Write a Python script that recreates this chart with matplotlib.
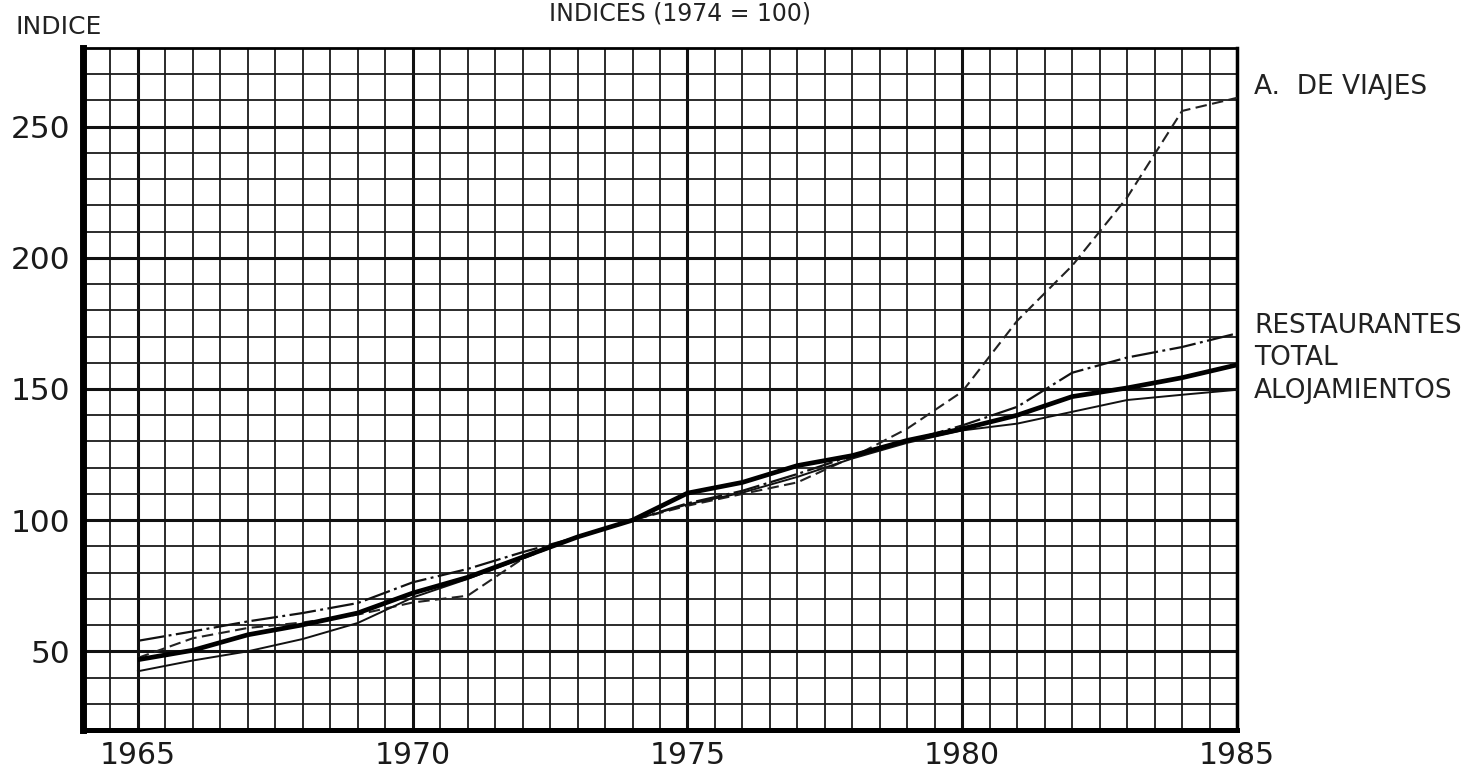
import matplotlib
matplotlib.use('Agg')
import matplotlib.pyplot as plt
from matplotlib.ticker import MultipleLocator

years = list(range(1965, 1986))

viajes = [47.5, 55, 58.9, 61, 64, 68.6, 71.2, 85.3, 93.6, 100, 105.5,
          110, 114.4, 124, 134.9, 149, 176, 197, 223, 256, 261]
restaurantes = [54, 57.6, 61.4, 64.6, 68.4, 76.3, 81.4, 87.8, 93.6, 100, 106.4,
                111.2, 117.6, 124.6, 130, 136.1, 143.2, 156.2, 162, 166, 171.2]
total = [46.8, 50.4, 56.3, 60.1, 64.6, 72.2, 78.2, 85.9, 93.6, 100, 110.3,
         114.4, 120.8, 124.6, 130.4, 134.8, 140, 147.1, 150.4, 154.3, 159.2]
alojamientos = [42.4, 46.5, 50, 54.7, 60.8, 70.5, 77.6, 85.5, 93.6, 100, 106,
                110.5, 116.5, 123.5, 129.5, 134.2, 136.8, 141.3, 145.8, 147.8, 149.7]

series_labels = ['A.  DE VIAJES', 'RESTAURANTES', 'TOTAL', 'ALOJAMIENTOS']
label_y = [265, 174, 161.7, 149.4]

fig = plt.figure(figsize=(14.74, 7.68), dpi=100)
ax = fig.add_axes([83 / 1474, 38 / 768, (1237 - 83) / 1474, (730 - 48) / 768])

ax.set_xlim(1964, 1985)
ax.set_ylim(20, 280)

ax.xaxis.set_minor_locator(MultipleLocator(0.5))
ax.yaxis.set_minor_locator(MultipleLocator(10))
ax.set_xticks([1965, 1970, 1975, 1980, 1985])
ax.set_yticks([50, 100, 150, 200, 250])

ax.grid(which='minor', color='#1a1a1a', lw=1.3)
ax.grid(which='major', color='#111111', lw=2.2)
ax.set_axisbelow(True)

ax.tick_params(which='both', length=0)
ax.tick_params(axis='y', labelsize=22.5, pad=9)
ax.tick_params(axis='x', labelsize=21.5, pad=8)
for lab in ax.get_xticklabels() + ax.get_yticklabels():
    lab.set_color('#1a1a1a')

ax.spines['left'].set_linewidth(5)
ax.spines['bottom'].set_linewidth(3.6)
ax.spines['top'].set_linewidth(2)
ax.spines['right'].set_linewidth(2.5)

ax.plot(years, viajes, color='#222222', lw=1.5, dashes=(5.5, 2.6), zorder=3)
ax.plot(years, restaurantes, color='#111111', lw=1.6, dashes=(12, 2, 1.3, 2), zorder=3)
ax.plot(years, alojamientos, color='#111111', lw=1.4, zorder=3)
ax.plot(years, total, color='black', lw=3.4, solid_capstyle='butt', zorder=4)

for txt, yv in zip(series_labels, label_y):
    ax.text(1985.31, yv, txt, fontsize=19, color='#222222', va='center',
            ha='left', clip_on=False)

fig.text(15 / 1474, 1 - 27 / 768, 'INDICE', fontsize=18, color='#222222',
         va='center', ha='left')
fig.text(680 / 1474, 1 - 20 / 768, 'INDICES (1974 = 100)', fontsize=17,
         color='#222222', va='baseline', ha='center')

fig.savefig('out.png', dpi=100)
